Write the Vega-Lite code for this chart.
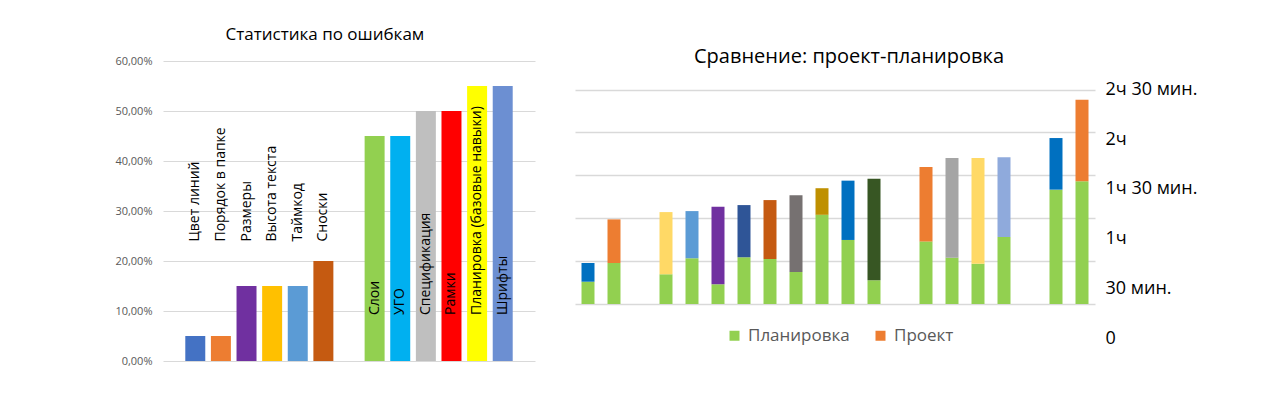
{
  "$schema": "https://vega.github.io/schema/vega-lite/v6.json",
  "background": "white",
  "padding": {"left": 114, "top": 26, "right": 10, "bottom": 10},
  "bounds": "flush",
  "spacing": 40,
  "resolve": {"scale": {"color": "independent"}, "legend": {"color": "independent"}},
  "config": {"font": "Open Sans", "view": {"stroke": null}},
  "hconcat": [
    {
      "width": 372,
      "height": 300,
      "title": {"text": "Статистика по ошибкам", "fontSize": 17, "fontWeight": "normal", "color": "#000000", "frame": "bounds", "anchor": "middle", "offset": 10.7},
      "data": {"values": [
        {"label": "Цвет линий", "value": 5},
        {"label": "Порядок в папке", "value": 5},
        {"label": "Размеры", "value": 15},
        {"label": "Высота текста", "value": 15},
        {"label": "Таймкод", "value": 15},
        {"label": "Сноски", "value": 20},
        {"label": "Слои", "value": 45},
        {"label": "УГО", "value": 45},
        {"label": "Спецификация", "value": 50},
        {"label": "Рамки", "value": 50},
        {"label": "Планировка (базовые навыки)", "value": 55},
        {"label": "Шрифты", "value": 55}
      ]},
      "encoding": {
        "x": {"field": "label", "type": "nominal", "scale": {"domain": ["Цвет линий", "Порядок в папке", "Размеры", "Высота текста", "Таймкод", "Сноски", "gap", "Слои", "УГО", "Спецификация", "Рамки", "Планировка (базовые навыки)", "Шрифты"], "paddingInner": 0.22, "paddingOuter": 0.87}, "axis": null}
      },
      "layer": [
        {
          "mark": {"type": "bar"},
          "encoding": {
            "y": {"field": "value", "type": "quantitative", "scale": {"domain": [0, 60], "nice": false}, "axis": {"values": [0, 10, 20, 30, 40, 50, 60], "labelExpr": "replace(format(datum.value, '.2f'), '.', ',') + '%'", "title": null, "domain": false, "ticks": false, "gridColor": "#D9D9D9", "labelFontSize": 11, "labelColor": "#595959", "labelPadding": 11}},
            "color": {"field": "label", "type": "nominal", "scale": {"domain": ["Цвет линий", "Порядок в папке", "Размеры", "Высота текста", "Таймкод", "Сноски", "Слои", "УГО", "Спецификация", "Рамки", "Планировка (базовые навыки)", "Шрифты"], "range": ["#4472C4", "#ED7D31", "#7030A0", "#FFC000", "#5B9BD5", "#C55A11", "#92D050", "#00B0F0", "#BFBFBF", "#FF0000", "#FFFF00", "#6C8FD2"]}, "legend": null}
          }
        },
        {
          "transform": [{"filter": "datum.value < 30"}],
          "mark": {"type": "text", "angle": 270, "align": "left", "baseline": "middle", "fontSize": 14, "color": "#000000"},
          "encoding": {"y": {"datum": 23.9, "type": "quantitative"}, "text": {"field": "label"}}
        },
        {
          "transform": [{"filter": "datum.value >= 30"}],
          "mark": {"type": "text", "angle": 270, "align": "left", "baseline": "middle", "fontSize": 14, "color": "#000000"},
          "encoding": {"y": {"datum": 9.2, "type": "quantitative"}, "text": {"field": "label"}}
        }
      ]
    },
    {
      "width": 520,
      "height": 243,
      "title": {"text": "Сравнение: проект-планировка", "fontSize": 20, "fontWeight": "normal", "color": "#000000", "frame": "group", "anchor": "middle", "dx": 14, "offset": -6},
      "data": {"values": [
        {"bar": "1", "part": "Планировка", "min": 15.6}, {"bar": "1", "part": "Проект 2", "min": 13.1},
        {"bar": "2", "part": "Планировка", "min": 28.7}, {"bar": "2", "part": "Проект", "min": 30.5},
        {"bar": "4", "part": "Планировка", "min": 20.8}, {"bar": "4", "part": "Проект 3", "min": 43.5},
        {"bar": "5", "part": "Планировка", "min": 32.0}, {"bar": "5", "part": "Проект 4", "min": 33.0},
        {"bar": "6", "part": "Планировка", "min": 13.8}, {"bar": "6", "part": "Проект 5", "min": 54.2},
        {"bar": "7", "part": "Планировка", "min": 32.7}, {"bar": "7", "part": "Проект 6", "min": 36.5},
        {"bar": "8", "part": "Планировка", "min": 31.5}, {"bar": "8", "part": "Проект 7", "min": 41.2},
        {"bar": "9", "part": "Планировка", "min": 22.4}, {"bar": "9", "part": "Проект 8", "min": 53.6},
        {"bar": "10", "part": "Планировка", "min": 62.4}, {"bar": "10", "part": "Проект 9", "min": 18.6},
        {"bar": "11", "part": "Планировка", "min": 44.8}, {"bar": "11", "part": "Проект 2", "min": 41.5},
        {"bar": "12", "part": "Планировка", "min": 16.6}, {"bar": "12", "part": "Проект 10", "min": 71.1},
        {"bar": "14", "part": "Планировка", "min": 43.8}, {"bar": "14", "part": "Проект", "min": 52.0},
        {"bar": "15", "part": "Планировка", "min": 32.4}, {"bar": "15", "part": "Проект 11", "min": 69.7},
        {"bar": "16", "part": "Планировка", "min": 28.2}, {"bar": "16", "part": "Проект 3", "min": 73.9},
        {"bar": "17", "part": "Планировка", "min": 46.9}, {"bar": "17", "part": "Проект 12", "min": 55.7},
        {"bar": "19", "part": "Планировка", "min": 80.0}, {"bar": "19", "part": "Проект 2", "min": 36.1},
        {"bar": "20", "part": "Планировка", "min": 85.8}, {"bar": "20", "part": "Проект", "min": 57.1}
      ]},
      "encoding": {
        "x": {"field": "bar", "type": "nominal", "scale": {"domain": ["1", "2", "3", "4", "5", "6", "7", "8", "9", "10", "11", "12", "13", "14", "15", "16", "17", "18", "19", "20"], "paddingInner": 0.5, "paddingOuter": 0.25}, "axis": null}
      },
      "layer": [
        {
          "mark": {"type": "bar"},
          "encoding": {
            "y": {"field": "min", "type": "quantitative", "stack": "zero", "scale": {"domain": [0, 170], "nice": false}, "axis": {"orient": "left", "values": [0, 30, 60, 90, 120, 150], "labels": false, "title": null, "domain": false, "ticks": false, "gridColor": "#D9D9D9", "gridWidth": 1.3}},
            "color": {"field": "part", "type": "nominal", "scale": {"domain": ["Планировка", "Проект", "Проект 2", "Проект 3", "Проект 4", "Проект 5", "Проект 6", "Проект 7", "Проект 8", "Проект 9", "Проект 10", "Проект 11", "Проект 12"], "range": ["#92D050", "#ED7D31", "#0070C0", "#FFD966", "#5B9BD5", "#7030A0", "#2F5597", "#C55A11", "#767171", "#BF9000", "#375623", "#A5A5A5", "#8FAADC"]}, "legend": {"values": ["Планировка", "Проект"], "orient": "none", "legendX": 151, "legendY": 266, "direction": "horizontal", "title": null, "symbolType": "square", "symbolSize": 100, "symbolStrokeWidth": 0, "labelFontSize": 17, "labelColor": "#595959", "columnPadding": 22, "labelOffset": 5}},
            "order": {"field": "part", "type": "ordinal"}
          }
        },
        {
          "mark": {"type": "point", "opacity": 0},
          "encoding": {
            "y": {"field": "min", "type": "quantitative", "scale": {"domain": [0, 150], "range": [277, 28.6], "nice": false, "zero": false}, "axis": {"orient": "right", "values": [0, 30, 60, 90, 120, 150], "labelExpr": "datum.value == 0 ? '0' : datum.value == 30 ? '30 мин.' : datum.value == 60 ? '1ч' : datum.value == 90 ? '1ч 30 мин.' : datum.value == 120 ? '2ч' : '2ч 30 мин.'", "title": null, "grid": false, "domain": false, "ticks": false, "labelFontSize": 18, "labelColor": "#000000", "labelPadding": 10, "labelAlign": "left"}}
          }
        }
      ],
      "resolve": {"scale": {"y": "independent"}, "axis": {"y": "independent"}}
    }
  ]
}
